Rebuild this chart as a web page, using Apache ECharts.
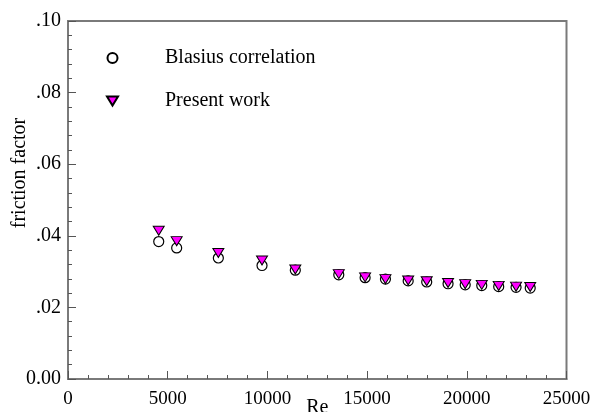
<!DOCTYPE html>
<html>
<head>
<meta charset="utf-8">
<script src="https://cdn.jsdelivr.net/npm/echarts@6/dist/echarts.min.js"></script>
<style>
  html, body { margin: 0; padding: 0; background: #fff; }
  #chart { width: 594px; height: 412px; }
</style>
</head>
<body>
<div id="chart"></div>
<script>
// Reynolds numbers of the test points
const reynolds = [4550, 5450, 7540, 9730, 11400, 13580, 14900, 15920, 17060, 17990, 19060, 19920, 20750, 21600, 22470, 23180];
// Friction factor from the Blasius correlation
const blasius = [0.0384, 0.0366, 0.0338, 0.0317, 0.0304, 0.0291, 0.0283, 0.0279, 0.0274, 0.0271, 0.0266, 0.0263, 0.0261, 0.0258, 0.0256, 0.0254];
// Friction factor from the present work
const presentWork = [0.0414, 0.0385, 0.0352, 0.0331, 0.0306, 0.0293, 0.0284, 0.0279, 0.0275, 0.0273, 0.0268, 0.0265, 0.0263, 0.0260, 0.0258, 0.0257];
// Tick labels
const xTickLabels = ['0', '5000', '10000', '15000', '20000', '25000'];
const yTickLabels = ['0.00', '.02', '.04', '.06', '.08', '.10'];

const serif = '"Liberation Serif", "Times New Roman", serif';
const axisGray = '#7a7a7a';
const tickGray = '#555';

const chart = echarts.init(document.getElementById('chart'), null, { renderer: 'canvas' });

const pairs = (xs, ys) => xs.map((x, i) => [x, ys[i]]);

chart.setOption({
  animation: false,
  backgroundColor: '#fff',
  grid: {
    left: 68, right: 27.5, top: 21, bottom: 33,
    outerBoundsMode: 'none',
    containLabel: false,
    show: true, borderColor: axisGray, borderWidth: 2, backgroundColor: 'transparent'
  },
  legend: {
    orient: 'vertical',
    left: 106, top: 48,
    padding: 0,
    itemWidth: 11, itemHeight: 10, itemGap: 23,
    textStyle: { fontFamily: serif, fontSize: 20, color: '#000', lineHeight: 20, padding: [0, 0, 0, 42] },
    data: ['Blasius correlation', 'Present work']
  },
  xAxis: {
    type: 'value', min: 0, max: 25000, interval: 5000,
    name: 'Re', nameLocation: 'middle', nameGap: 19,
    nameMoveOverlap: false,
    nameTextStyle: { fontFamily: serif, fontSize: 20, color: '#000' },
    axisLine: { show: true, lineStyle: { color: axisGray, width: 2 } },
    axisTick: { show: true, inside: true, length: 8, lineStyle: { color: tickGray, width: 1 } },
    minorTick: { show: true, splitNumber: 5, length: 4, lineStyle: { color: tickGray, width: 1 } },
    splitLine: { show: false },
    axisLabel: {
      margin: 11, fontFamily: serif, fontSize: 19, color: '#000',
      formatter: v => xTickLabels[Math.round(v / 5000)]
    }
  },
  yAxis: {
    type: 'value', min: 0, max: 0.1, interval: 0.02,
    axisLine: { show: true, lineStyle: { color: axisGray, width: 2 } },
    axisTick: { show: true, inside: true, length: 8, lineStyle: { color: tickGray, width: 1 } },
    minorTick: { show: true, splitNumber: 5, length: 4, lineStyle: { color: tickGray, width: 1 } },
    splitLine: { show: false },
    axisLabel: {
      margin: 7, fontFamily: serif, fontSize: 20, color: '#000',
      formatter: v => yTickLabels[Math.round(v / 0.02)]
    }
  },
  graphic: [{
    type: 'text',
    x: 20, y: 173,
    rotation: Math.PI / 2,
    style: {
      text: 'friction factor',
      fontFamily: serif, fontSize: 20, fill: '#000',
      align: 'center', verticalAlign: 'middle'
    }
  }],
  series: [
    {
      name: 'Blasius correlation',
      type: 'scatter',
      data: pairs(reynolds, blasius),
      symbol: 'circle',
      symbolSize: 10,
      itemStyle: { color: '#fff', borderColor: '#000', borderWidth: 1.2, opacity: 1 },
      z: 2
    },
    {
      name: 'Present work',
      type: 'scatter',
      data: pairs(reynolds, presentWork),
      symbol: 'path://M0 0L22 0L11 18Z',
      symbolSize: [11, 9],
      symbolKeepAspect: false,
      itemStyle: { color: '#ff00ff', borderColor: '#000', borderWidth: 1, opacity: 1 },
      z: 3
    }
  ]
});
</script>
</body>
</html>
